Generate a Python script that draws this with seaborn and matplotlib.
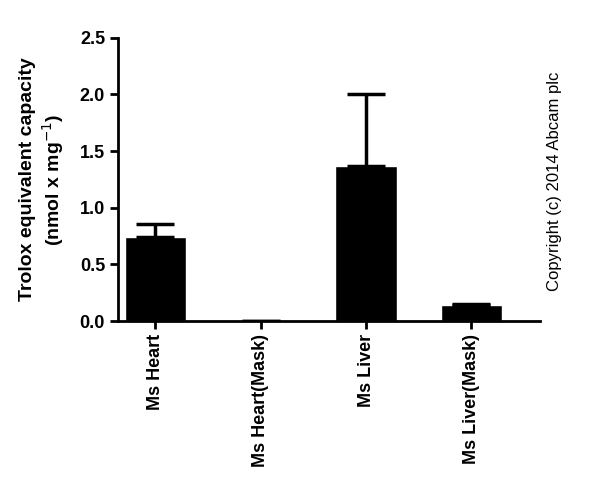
import numpy as np
import pandas as pd
import matplotlib
matplotlib.use("Agg")
import matplotlib.pyplot as plt
import seaborn as sns

samples = ["Ms Heart", "Ms Heart(Mask)", "Ms Liver", "Ms Liver(Mask)"]
means = [0.74, 0.0, 1.37, 0.14]
errors = [0.12, 0.0, 0.63, 0.01]

df = pd.DataFrame({"Sample": samples, "Capacity": means})

sns.set_theme(style="ticks", font="Liberation Sans",
              rc={"text.color": "black", "axes.labelcolor": "black",
                  "xtick.color": "black", "ytick.color": "black",
                  "axes.edgecolor": "black"})
fig = plt.figure(figsize=(6, 5.04), dpi=100)
ax = fig.add_axes([0.197, 0.363, 0.703, 0.562])

sns.barplot(data=df, x="Sample", y="Capacity", color="black", width=0.58,
            errorbar=None, ax=ax, saturation=1)
pos = np.arange(len(samples))
ax.errorbar(pos, means, yerr=[np.zeros(len(errors)), errors], fmt="none",
            ecolor="black", elinewidth=2.5, capsize=14, capthick=2.5)

ax.set_ylim(0, 2.5)
ax.set_yticks([0.0, 0.5, 1.0, 1.5, 2.0, 2.5])
ax.set_yticklabels([f"{v:.1f}" for v in [0.0, 0.5, 1.0, 1.5, 2.0, 2.5]])
ax.set_xlim(-0.35, 3.65)
ax.set_xlabel("")
ax.set_ylabel("Trolox equivalent capacity\n(nmol x mg$^{-1}$)", fontsize=14,
              fontweight="bold", labelpad=10)
for lbl in ax.get_xticklabels():
    lbl.set_rotation(90)
    lbl.set_fontweight("bold")
    lbl.set_fontsize(13)
for lbl in ax.get_yticklabels():
    lbl.set_fontweight("bold")
    lbl.set_fontsize(13)
ax.tick_params(width=2, length=6)
for s in ["left", "bottom"]:
    ax.spines[s].set_linewidth(2)
sns.despine(ax=ax)

fig.text(0.925, 0.64, "Copyright (c) 2014 Abcam plc", rotation=90,
         ha="center", va="center", fontsize=12, color="black")

fig.savefig("out.png", dpi=100)
